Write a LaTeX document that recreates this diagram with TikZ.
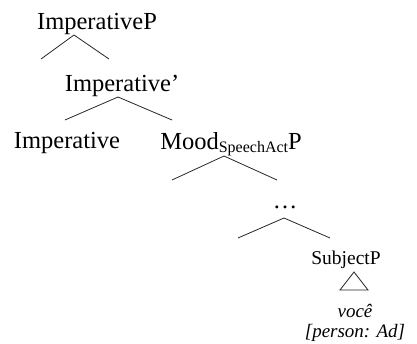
\documentclass[tikz,border=0pt]{standalone}
\usepackage{fontspec}
\setmainfont{Liberation Serif}
\begin{document}
\begin{tikzpicture}[x=1pt,y=-1pt,
  big/.style={inner sep=0pt,anchor=base,font=\fontsize{24.5}{28}\selectfont},
  small/.style={inner sep=0pt,anchor=base,font=\fontsize{19.5}{23}\selectfont},
  gloss/.style={inner sep=0pt,anchor=base,font=\fontsize{19}{23}\selectfont\itshape},
  branch/.style={line width=0.8pt,black!85}]
\useasboundingbox (0,0) rectangle (417,344);

% labels
\node[big]   (ip)   at (97,30)   {ImperativeP};
\node[big]   (ibar) at (122,92)  {Imperative'};
\node[big]   (imp)  at (67,149)  {Imperative};
\node[big]   (mood) at (231,150) {Mood\raisebox{-2.5pt}{\fontsize{16}{18}\selectfont SpeechAct}P};
\node[big]   (dots) at (285,209) {\dots};
\node[small] (subj) at (346,265) {SubjectP};
\node[gloss] (voce) at (355,317) {você};
\node[gloss] (pers) at (355,337) {[person: Ad]};

% branch points
\coordinate (a1) at (74,35);  \coordinate (a1l) at (41,59);  \coordinate (a1r) at (109,59);
\coordinate (a2) at (118,97); \coordinate (a2l) at (65,120); \coordinate (a2r) at (172,120);
\coordinate (a3) at (224,156); \coordinate (a3l) at (172,180); \coordinate (a3r) at (277,180);
\coordinate (a4) at (284,218); \coordinate (a4l) at (238,238); \coordinate (a4r) at (330,238);

\draw[branch] (a1l) -- (a1) -- (a1r);
\draw[branch] (a2l) -- (a2) -- (a2r);
\draw[branch] (a3l) -- (a3) -- (a3r);
\draw[branch] (a4l) -- (a4) -- (a4r);

% roof over the subject
\coordinate (t) at (354,272); \coordinate (tl) at (340,290); \coordinate (tr) at (368,290);
\draw[branch] (t) -- (tl) -- (tr) -- cycle;
\end{tikzpicture}
\end{document}
